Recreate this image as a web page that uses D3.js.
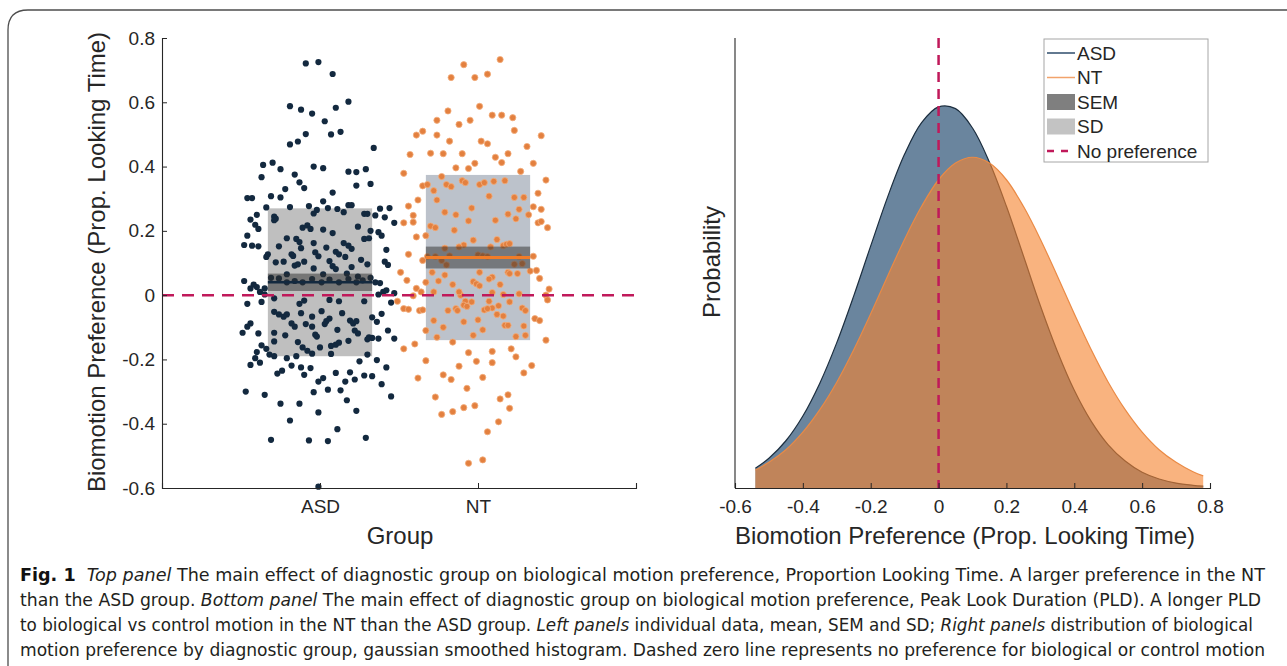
<!DOCTYPE html>
<html><head><meta charset="utf-8">
<script src="https://cdn.jsdelivr.net/npm/d3@7"></script>
<style>
html,body{margin:0;padding:0;background:#fff;}
svg{display:block;}
text{font-family:"Liberation Sans",Arial,Helvetica,sans-serif;fill:#262626;}
.cap{font-family:"Liberation Sans Narrow","DejaVu Sans Condensed","Liberation Sans",sans-serif;fill:#231f20;}
</style></head>
<body>
<script>
// ---------------- DATA ----------------
const groups = ["ASD", "NT"];
const groupMeans = [0.040, 0.117];
const groupSEM = [0.027, 0.034];
const groupSD = [0.230, 0.257];
const yTicksLeft = [-0.6, -0.4, -0.2, 0, 0.2, 0.4, 0.6, 0.8];
const xTicksRight = [-0.6, -0.4, -0.2, 0, 0.2, 0.4, 0.6, 0.8];
const legendLabels = ["ASD", "NT", "SEM", "SD", "No preference"];

// individual data: [jitter (category units), preference]
const asdPoints = [
[-0.09,0.721],[-0.01,0.725],[0.08,0.688],[-0.19,0.588],[-0.12,0.577],[-0.05,0.565],[0.10,0.583],[0.18,0.602],[0.03,0.541],[-0.09,0.501],[0.07,0.50],[0.13,0.508],[-0.19,0.469],[-0.14,0.478],[0.34,0.458],[-0.36,0.405],[-0.30,0.412],[-0.25,0.392],[-0.37,0.367],[-0.16,0.375],[-0.04,0.40],[0.02,0.395],[0.18,0.384],[0.23,0.383],[0.29,0.392],[-0.13,0.351],[-0.10,0.333],[-0.22,0.330],[0.23,0.341],[0.32,0.346],[0.08,0.319],[-0.46,0.302],[-0.43,0.302],[-0.31,0.308],[-0.25,0.304],
[0.02,0.292],[-0.34,0.273],[-0.19,0.274],[-0.07,0.277],[-0.02,0.265],[-0.04,0.254],[0.05,0.271],[0.11,0.268],[0.15,0.258],[0.18,0.28],[0.20,0.28],[0.38,0.269],[0.44,0.271],[0.28,0.253],[0.30,0.253],[0.35,0.248],[-0.40,0.25],[-0.29,0.244],[-0.28,0.238],[-0.29,0.233],[-0.44,0.235],[0.41,0.242],[0.47,0.225],[-0.41,0.219],[-0.39,0.206],[-0.11,0.21],[-0.08,0.217],[-0.06,0.206],[0.02,0.204],[0.08,0.193],[0.24,0.213],[0.32,0.20],[0.37,0.196],[0.39,0.185],[-0.46,0.185],[-0.21,0.177],[-0.15,0.175],[-0.13,0.165],[0.28,0.175],[0.31,0.177],[-0.48,0.156],[-0.43,0.154],[-0.39,0.152],[-0.26,0.152],[-0.04,0.162],[0.04,0.148],[0.15,0.162],[0.18,0.154],[0.20,0.144],[-0.12,0.146],[0.42,0.141],[0.10,0.135],[0.12,0.127],[-0.33,0.127],[-0.34,0.119],[-0.18,0.127],[-0.17,0.122],[-0.03,0.133],[-0.01,0.121],[0.16,0.119],[-0.28,0.102],[-0.23,0.104],[-0.10,0.104],[-0.16,0.092],[-0.14,0.096],[0.06,0.106],[0.26,0.110],[0.30,0.096],[0.41,0.104],[0.43,0.094],[-0.04,0.083],[0.08,0.09],[0.10,0.081],[0.20,0.0875],[0.24,0.058],[0.17,0.067],[-0.21,0.065],[0.02,0.065],[-0.48,0.044],
[-0.31,0.054],[-0.26,0.052],[-0.21,0.04],[-0.16,0.044],[-0.11,0.04],[-0.05,0.05],[0.01,0.04],[0.06,0.048],[0.12,0.04],[0.18,0.05],[0.23,0.04],[0.27,0.046],[0.32,0.054],[0.35,0.04],
[-0.42,0.033],[-0.40,0.025],[-0.44,0.021],[-0.38,0.01],[-0.35,0.021],[0.38,0.0375],[0.42,0.015],[0.40,0.01],[0.47,0.006],[0.37,0.002],[-0.35,0.002],[-0.29,-0.01],[-0.10,-0.017],[-0.13,-0.027],[0.06,-0.015],[0.12,-0.019],[0.28,-0.019],[-0.37,-0.021],[-0.46,-0.027],[0.45,-0.023],[0.01,-0.05],[-0.29,-0.052],[-0.26,-0.06],[-0.23,-0.067],[-0.21,-0.06],[-0.12,-0.056],[-0.05,-0.067],[0.06,-0.073],[0.04,-0.081],[0.14,-0.056],[0.19,-0.079],[0.21,-0.088],[0.23,-0.081],[0.33,-0.069],[0.39,-0.058],[0.36,-0.083],[-0.44,-0.088],[-0.46,-0.098],[-0.18,-0.088],[-0.16,-0.098],[-0.09,-0.09],[-0.05,-0.098],[0.03,-0.09],[-0.49,-0.117],[-0.39,-0.119],[-0.29,-0.117],[-0.22,-0.125],[-0.03,-0.123],[0.11,-0.108],[0.22,-0.11],[0.24,-0.119],[0.31,-0.131],[0.43,-0.11],
[-0.29,-0.144],[-0.14,-0.146],[-0.11,-0.1625],[-0.08,-0.173],[-0.02,-0.129],[0.0,-0.1625],[-0.05,-0.182],[0.07,-0.158],[0.10,-0.154],[0.12,-0.148],[0.07,-0.183],[0.18,-0.142],[0.30,-0.1375],[0.33,-0.133],[0.37,-0.135],[0.47,-0.135],[0.30,-0.185],[-0.37,-0.156],[-0.34,-0.167],[-0.40,-0.177],[-0.41,-0.196],[-0.32,-0.185],[-0.29,-0.19],[-0.21,-0.196],[-0.15,-0.19],[-0.44,-0.217],[-0.38,-0.21],[-0.18,-0.219],[-0.12,-0.225],[-0.06,-0.227],[-0.10,-0.248],[-0.27,-0.244],[-0.24,-0.235],[0.25,-0.206],[0.36,-0.202],[0.42,-0.225],[0.10,-0.242],[0.19,-0.24],[0.28,-0.25],[0.33,-0.252],[0.02,-0.258],[-0.01,-0.269],[0.16,-0.269],[0.22,-0.2625],[0.39,-0.277],[-0.47,-0.30],[-0.35,-0.31],[-0.04,-0.302],[0.05,-0.294],[0.13,-0.296],[0.45,-0.315],[0.17,-0.327],[-0.25,-0.3375],[-0.13,-0.3375],[-0.01,-0.365],[0.23,-0.36],[-0.19,-0.39],[0.11,-0.417],[-0.31,-0.45],[-0.07,-0.452],[0.05,-0.454],[0.29,-0.444],[-0.01,-0.596]
];
const ntPoints = [
[0.14,0.733],[-0.09,0.717],[-0.17,0.677],[-0.02,0.677],[0.06,0.6875],[0.01,0.5875],[-0.19,0.573],[0.09,0.56],[0.15,0.56],[0.22,0.552],[-0.26,0.544],[-0.12,0.531],[-0.05,0.544],[0.23,0.5125],[-0.39,0.498],[-0.35,0.51],[-0.26,0.498],[0.40,0.496],[-0.18,0.479],[0.02,0.479],[0.06,0.471],[0.31,0.4625],[-0.43,0.4375],[-0.30,0.4415],[-0.22,0.44],[-0.10,0.44],[0.19,0.44],[0.11,0.429],[0.15,0.4125],[-0.02,0.41],[0.35,0.41],[-0.14,0.396],[-0.06,0.394],[-0.47,0.379],[-0.23,0.369],[0.27,0.385],[0.43,0.358],[-0.35,0.34],[-0.32,0.344],[-0.28,0.325],[-0.20,0.344],[-0.17,0.3375],[-0.10,0.356],[-0.08,0.35],[0.01,0.344],[0.04,0.35],[0.10,0.354],[0.17,0.356],[0.07,0.308],[0.23,0.304],[0.29,0.304],[0.38,0.317],[-0.38,0.296],
[-0.44,0.277],[-0.26,0.296],[0.35,0.275],[0.40,0.267],[-0.04,0.271],[0.26,0.267],[-0.21,0.258],[-0.14,0.25],[-0.41,0.248],[0.19,0.252],[0.24,0.2375],[0.32,0.25],[-0.47,0.225],[-0.41,0.227],[-0.06,0.231],[0.11,0.233],[0.38,0.225],[0.40,0.229],[0.44,0.21],[-0.30,0.215],[-0.27,0.21],[-0.15,0.202],[-0.33,0.185],[-0.39,0.181],[-0.03,0.171],[0.12,0.173],[-0.09,0.156],[-0.12,0.15],[-0.21,0.146],[0.16,0.154],[0.18,0.158],[0.20,0.16],[0.08,0.15],
[-0.32,0.12],[-0.27,0.12],[-0.18,0.122],[0.0,0.125],[0.03,0.122],[0.06,0.12],[0.26,0.12],
[-0.35,0.108],[-0.23,0.108],[-0.20,0.094],[0.23,0.096],[0.28,0.098],[-0.44,0.127],[0.35,0.121],[-0.29,0.071],[-0.21,0.0625],[0.01,0.071],[0.09,0.056],[0.07,0.05],[0.19,0.071],[0.20,0.067],[0.25,0.067],[0.33,0.075],[0.37,0.077],[0.39,0.052],[-0.49,0.071],[-0.45,0.046],[-0.33,0.04],[-0.25,0.044],[-0.16,0.033],[-0.03,0.042],[-0.01,0.035],[0.01,0.029],[0.14,0.033],[-0.39,0.021],[-0.36,0.01],[0.45,0.019],[-0.28,0.01],[-0.11,0.0],[-0.12,0.01],[0.09,0.008],[0.16,0.002],[0.26,0.004],[0.43,0.0],[-0.41,-0.002],[-0.51,-0.019],[0.44,-0.015],[-0.08,-0.019],[-0.04,-0.021],[-0.09,-0.031],[-0.07,-0.035],[0.07,-0.019],[0.09,-0.04],[0.13,-0.033],[0.20,-0.021],[-0.47,-0.042],[-0.44,-0.044],[-0.37,-0.048],[-0.35,-0.046],[-0.19,-0.048],[-0.14,-0.042],[-0.13,-0.048],[0.04,-0.046],[0.06,-0.042],[0.12,-0.06],[0.16,-0.065],[0.28,-0.04],[0.30,-0.048],[0.36,-0.073],[0.39,-0.079],[-0.28,-0.079],[-0.09,-0.083],[0.0,-0.077],[-0.22,-0.1],[0.17,-0.094],[0.19,-0.094],[0.29,-0.096],[-0.33,-0.11],[0.03,-0.108],[-0.03,-0.125],[-0.26,-0.131],[0.30,-0.125],[0.43,-0.14],
[0.24,-0.129],[-0.16,-0.146],[-0.47,-0.167],[-0.40,-0.152],[-0.06,-0.179],[0.09,-0.175],[0.21,-0.167],[0.24,-0.192],[-0.33,-0.204],[-0.01,-0.206],[0.09,-0.21],[-0.12,-0.221],[0.34,-0.219],[0.29,-0.242],[-0.38,-0.258],[-0.22,-0.248],[-0.17,-0.2625],[0.03,-0.256],[-0.07,-0.29],[-0.27,-0.317],[0.14,-0.323],[0.19,-0.31],[-0.09,-0.35],[-0.02,-0.344],[0.20,-0.352],[-0.23,-0.371],[-0.16,-0.3625],[0.13,-0.394],[0.06,-0.425],[-0.06,-0.523],[0.03,-0.5125]
];

// smoothed histogram (relative probability)
const densityX = [-0.54,-0.50,-0.45,-0.40,-0.35,-0.30,-0.25,-0.20,-0.15,-0.10,-0.05,0.00,0.05,0.10,0.15,0.20,0.25,0.30,0.35,0.40,0.45,0.50,0.55,0.60,0.65,0.70,0.75,0.78];
const asdDensity = [0.044,0.066,0.105,0.160,0.233,0.323,0.427,0.538,0.647,0.742,0.812,0.847,0.843,0.800,0.724,0.626,0.516,0.405,0.304,0.217,0.148,0.096,0.060,0.035,0.020,0.011,0.006,0.004];
const ntDensity = [0.040,0.057,0.085,0.124,0.174,0.235,0.307,0.387,0.471,0.553,0.626,0.685,0.722,0.735,0.722,0.685,0.626,0.553,0.471,0.387,0.307,0.235,0.174,0.124,0.085,0.057,0.036,0.027];

const captionLines = [
  [["Fig. 1","b"],["  ",""],["Top panel","i"],[" The main effect of diagnostic group on biological motion preference, Proportion Looking Time. A larger preference in the NT",""]],
  [["than the ASD group. ",""],["Bottom panel","i"],[" The main effect of diagnostic group on biological motion preference, Peak Look Duration (PLD). A longer PLD",""]],
  [["to biological vs control motion in the NT than the ASD group. ",""],["Left panels","i"],[" individual data, mean, SEM and SD; ",""],["Right panels","i"],[" distribution of biological",""]],
  [["motion preference by diagnostic group, gaussian smoothed histogram. Dashed zero line represents no preference for biological or control motion",""]]
];

// ---------------- DRAW ----------------
const W = 1287, H = 666;
const svg = d3.select("body").append("svg").attr("width", W).attr("height", H);

const ASD_COL = "#13293f", NT_COL = "#e3803f", DASH_COL = "#c0195a", AX = "#262626";
const fmt = d => d === 0 ? "0" : d.toFixed(1);   // plain hyphen minus

// frame
svg.append("path").attr("d", "M8,666 V30 Q8,10 28,10 H1287")
  .attr("fill", "none").attr("stroke", "#4d4d4d").attr("stroke-width", 1.3);

// ---- left panel
const xL = d3.scaleLinear().domain([0, 3]).range([162, 636]);
const yL = d3.scaleLinear().domain([-0.6, 0.8]).range([488, 38]);
const gL = svg.append("g");

const halfW = 0.33;
const sdFill = ["#bfbfbf", "#bcc2cb"];
// SD boxes below the points
groups.forEach((g, i) => {
  const c = i + 1;
  gL.append("rect")
    .attr("x", xL(c - halfW)).attr("width", xL(c + halfW) - xL(c - halfW))
    .attr("y", yL(groupMeans[i] + groupSD[i]))
    .attr("height", yL(groupMeans[i] - groupSD[i]) - yL(groupMeans[i] + groupSD[i]))
    .attr("fill", sdFill[i]);
});

const ptsData = [asdPoints, ntPoints];
const ptCols = [ASD_COL, NT_COL];
ptsData.forEach((pts, gi) => {
  gL.append("g").selectAll("circle").data(pts).enter().append("circle")
    .attr("cx", d => xL(gi + 1 + d[0]))
    .attr("cy", d => yL(d[1]))
    .attr("r", 3.1)
    .attr("fill", ptCols[gi])
    .attr("stroke", gi === 1 ? "#f3ad7c" : "none")
    .attr("stroke-width", 0.8);
});

// SEM boxes and means over the points
groups.forEach((g, i) => {
  const c = i + 1;
  gL.append("rect")
    .attr("x", xL(c - halfW)).attr("width", xL(c + halfW) - xL(c - halfW))
    .attr("y", yL(groupMeans[i] + groupSEM[i]))
    .attr("height", yL(groupMeans[i] - groupSEM[i]) - yL(groupMeans[i] + groupSEM[i]))
    .attr("fill", "#2e2e2e").attr("opacity", 0.5);
  gL.append("line")
    .attr("x1", xL(c - halfW)).attr("x2", xL(c + halfW))
    .attr("y1", yL(groupMeans[i])).attr("y2", yL(groupMeans[i]))
    .attr("stroke", i === 0 ? ASD_COL : "#f07c28").attr("stroke-width", i === 0 ? 2.5 : 3);
});

// zero line
gL.append("line").attr("x1", xL(0)).attr("x2", xL(3)).attr("y1", yL(0)).attr("y2", yL(0))
  .attr("stroke", DASH_COL).attr("stroke-width", 2.5).attr("stroke-dasharray", "12,8");

function styleAxis(g, fs) {
  g.select(".domain").attr("stroke", AX).attr("stroke-width", 1.1);
  g.selectAll(".tick line").attr("stroke", AX);
  g.selectAll(".tick text").style("font-size", fs + "px").attr("fill", AX)
    .style("font-family", '"Liberation Sans",Arial,sans-serif');
}
const yAxL = gL.append("g").attr("transform", `translate(${xL(0)},0)`)
  .call(d3.axisLeft(yL).tickValues(yTicksLeft).tickSize(-5).tickPadding(7).tickFormat(fmt));
styleAxis(yAxL, 19);
const xAxL = gL.append("g").attr("transform", `translate(0,${yL(-0.6)})`)
  .call(d3.axisBottom(xL).tickValues([1, 2]).tickSize(-5).tickPadding(12)
    .tickFormat((d, i) => groups[i]));
styleAxis(xAxL, 19);

gL.append("text").attr("transform", "translate(96,262) rotate(-90)")
  .attr("text-anchor", "middle").attr("dominant-baseline", "central")
  .style("font-size", "24px").text("Biomotion Preference (Prop. Looking Time)");
gL.append("text").attr("x", 400).attr("y", 535)
  .attr("text-anchor", "middle").attr("dominant-baseline", "central")
  .style("font-size", "24px").text("Group");

// ---- right panel
const xR = d3.scaleLinear().domain([-0.6, 0.8]).range([735, 1210]);
const yR = d3.scaleLinear().domain([0, 1]).range([488, 38]);
const gR = svg.append("g");

const asdSeries = densityX.map((x, i) => [x, asdDensity[i]]);
const ntSeries = densityX.map((x, i) => [x, ntDensity[i]]);
const area = d3.area().x(d => xR(d[0])).y0(yR(0)).y1(d => yR(d[1])).curve(d3.curveCatmullRom);
const line = d3.line().x(d => xR(d[0])).y(d => yR(d[1])).curve(d3.curveCatmullRom);

gR.append("path").attr("d", area(asdSeries)).attr("fill", "#0e3a62").attr("opacity", 0.62);
gR.append("path").attr("d", line(asdSeries)).attr("fill", "none").attr("stroke", "#1c2e3f").attr("stroke-width", 1.2);
gR.append("path").attr("d", area(ntSeries)).attr("fill", "#f58430").attr("opacity", 0.62);
gR.append("path").attr("d", line(ntSeries)).attr("fill", "none").attr("stroke", "#ea8a45").attr("stroke-width", 1.2);

gR.append("line").attr("x1", xR(0)).attr("x2", xR(0)).attr("y1", yR(1)).attr("y2", yR(0))
  .attr("stroke", DASH_COL).attr("stroke-width", 2.5).attr("stroke-dasharray", "10,7");

const xAxR = gR.append("g").attr("transform", `translate(0,${yR(0)})`)
  .call(d3.axisBottom(xR).tickValues(xTicksRight).tickSize(-5).tickPadding(12).tickFormat(fmt));
styleAxis(xAxR, 19);
gR.append("line").attr("x1", xR(-0.6)).attr("x2", xR(-0.6)).attr("y1", yR(0)).attr("y2", yR(1))
  .attr("stroke", AX).attr("stroke-width", 1.1);

gR.append("text").attr("x", 965).attr("y", 535)
  .attr("text-anchor", "middle").attr("dominant-baseline", "central")
  .style("font-size", "24px").text("Biomotion Preference (Prop. Looking Time)");
gR.append("text").attr("transform", "translate(711,262) rotate(-90)")
  .attr("text-anchor", "middle").attr("dominant-baseline", "central")
  .style("font-size", "24px").text("Probability");

// legend
const lg = gR.append("g");
lg.append("rect").attr("x", 1044).attr("y", 39).attr("width", 164).attr("height", 123)
  .attr("fill", "#fff").attr("stroke", "#a6a6a6").attr("stroke-width", 1);
const legY = d3.scalePoint().domain(legendLabels).range([53, 151]);
legendLabels.forEach((lab, i) => {
  const y = legY(lab);
  if (i === 0 || i === 1) {
    lg.append("line").attr("x1", 1047).attr("x2", 1075).attr("y1", y).attr("y2", y)
      .attr("stroke", i === 0 ? "#2e4d6b" : "#f2a36b").attr("stroke-width", 1.5);
  } else if (i === 2 || i === 3) {
    lg.append("rect").attr("x", 1047).attr("y", y - 8).attr("width", 28).attr("height", 16)
      .attr("fill", i === 2 ? "#7f7f7f" : "#c3c3c3");
  } else {
    lg.append("line").attr("x1", 1047).attr("x2", 1075).attr("y1", y).attr("y2", y)
      .attr("stroke", DASH_COL).attr("stroke-width", 2.5).attr("stroke-dasharray", "7,7");
  }
  lg.append("text").attr("x", 1077).attr("y", y).attr("dominant-baseline", "central")
    .style("font-size", "19px").attr("fill", "#1a1a1a").text(lab);
});

// caption
const capY = [581, 606, 631, 656];
const capLen = [1245, 1241, 1233, 1245];
captionLines.forEach((parts, li) => {
  const t = svg.append("text").attr("class", "cap").attr("x", 20).attr("y", capY[li])
    .attr("textLength", capLen[li]).attr("lengthAdjust", "spacingAndGlyphs")
    .style("font-size", "17px");
  parts.forEach(p => {
    const s = t.append("tspan").text(p[0]).style("white-space", "pre");
    if (p[1] === "b") s.style("font-weight", "bold").attr("fill", "#111");
    if (p[1] === "i") s.style("font-style", "italic");
  });
});
</script>
</body></html>
